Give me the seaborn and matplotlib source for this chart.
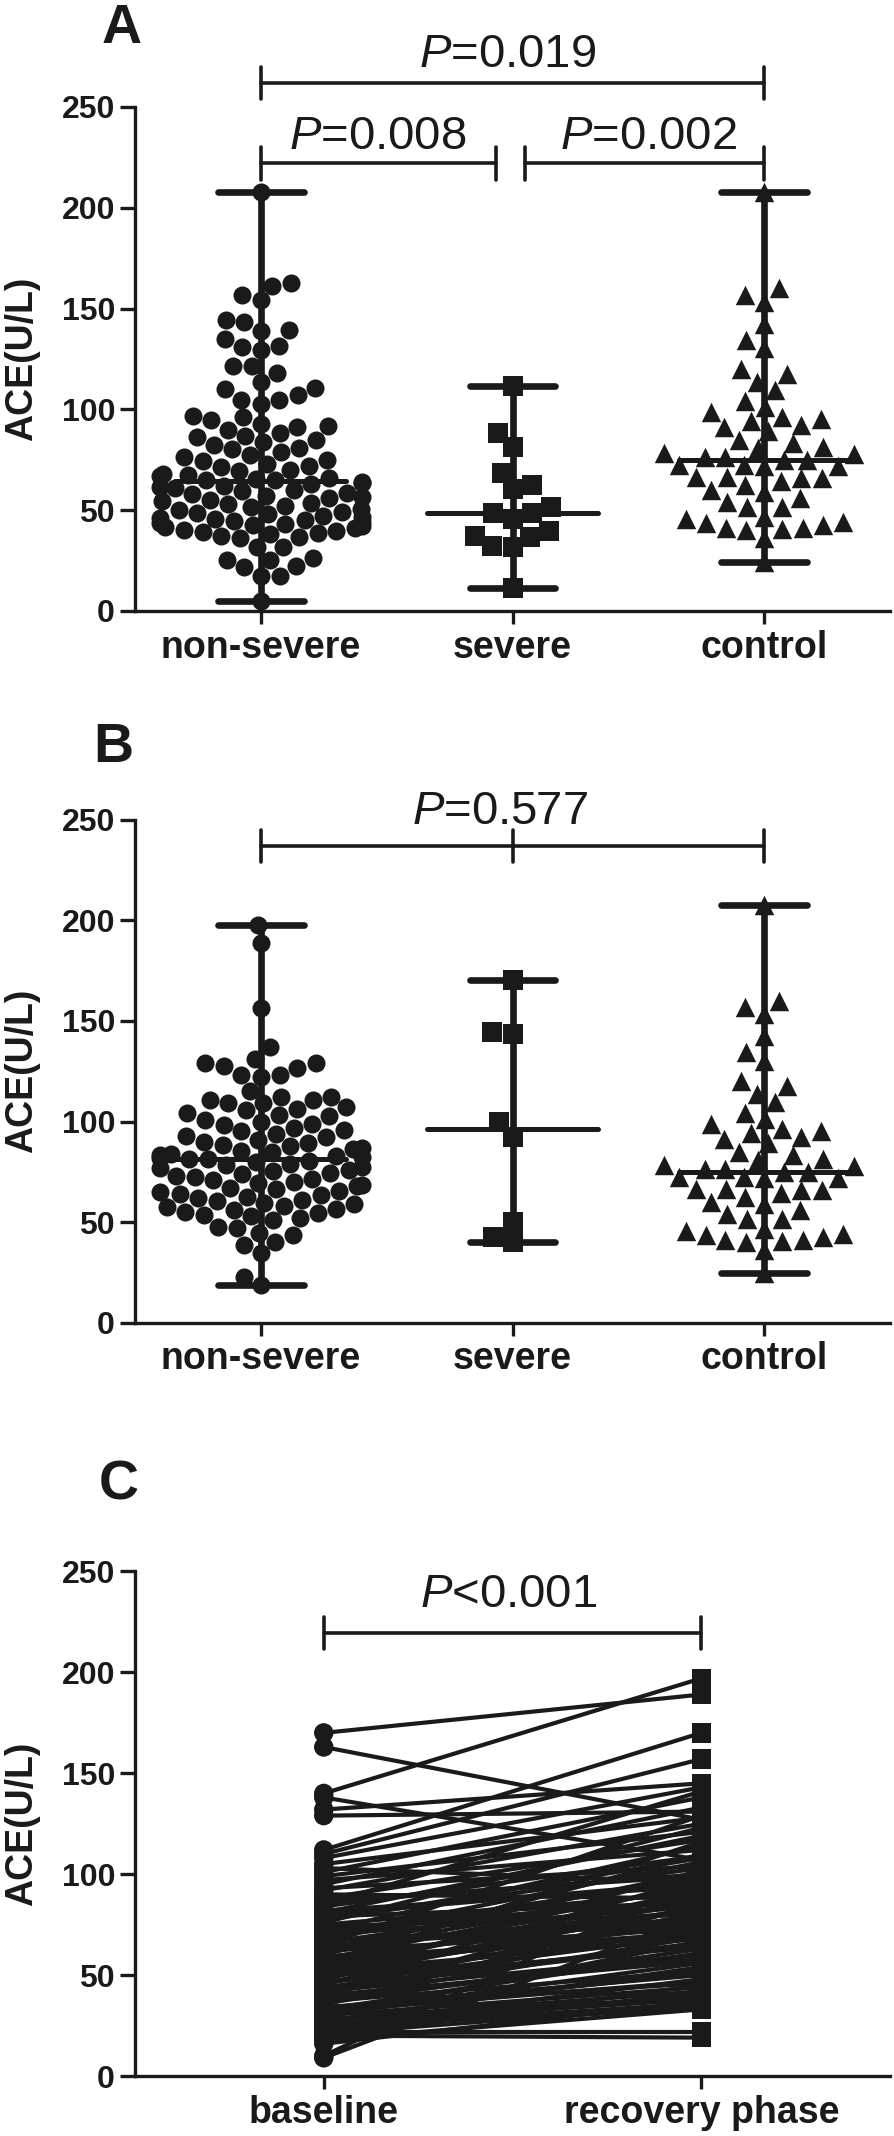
import numpy as np
import pandas as pd
import matplotlib
matplotlib.use("Agg")
import matplotlib.pyplot as plt
import seaborn as sns

groups = ["non-severe", "severe", "control"]

# panel A values (U/L)
nonsevere_a = [
    207.8, 162.5, 161.4, 156.5, 154.3, 144.1, 143.2, 139.2, 138.7, 134.8,
    131.4, 130.8, 129.3, 121.5, 121.5, 118.2, 113.7, 110.4, 110.0, 107.1,
    104.9, 104.9, 102.7, 96.7, 96.0,
    94.5, 93.0, 92.0, 91.5, 90.0, 88.5, 87.0, 86.5, 85.0, 84.0,
    82.5, 81.0, 80.5, 79.0, 77.5, 76.5, 75.0, 74.5, 73.0, 72.0,
    71.5, 70.0, 69.5, 68.0, 67.5, 67.0, 66.0, 65.5, 65.0, 64.8,
    64.0, 63.5, 63.0, 62.0, 61.5, 61.0, 60.0, 59.5, 58.5, 58.0,
    57.0, 56.5, 56.0, 55.0, 54.5, 53.5, 53.0, 52.0, 51.5, 50.5,
    50.0, 49.0, 48.5, 48.0, 47.0, 46.5, 46.0, 45.5, 45.0, 44.5,
    44.0, 43.5, 43.0, 42.5, 42.0, 41.5, 41.0, 40.0, 39.5, 39.0,
    38.5, 38.0, 37.0, 36.5, 36.0,
    31.7, 31.7, 26.3, 25.3, 25.3, 22.3, 21.8, 17.4, 17.4, 4.9,
]
severe_a = [111.8, 88.4, 81.5, 68.6, 62.5, 60.4, 51.7, 48.5, 48.5, 45.5,
            39.7, 37.2, 36.5, 32.2, 31.6, 11.6]
control_ab = [
    207.8, 160.0, 156.7, 153.5, 142.4, 134.6, 130.3, 119.9, 117.6, 113.7,
    109.6, 104.2, 101.3, 98.6, 96.4, 95.1, 94.4, 92.3, 91.4, 89.4,
    84.8, 83.5, 81.5, 81.1, 78.2, 77.7, 76.5, 76.5, 75.0, 74.9,
    72.4, 72.4, 71.9, 71.9, 66.6, 66.6, 65.8, 65.8, 64.6, 62.5,
    60.0, 59.2, 55.9, 54.2, 51.7, 51.7, 46.8, 45.5, 44.3, 43.5,
    42.7, 41.3, 41.0, 40.5, 40.2, 36.0, 24.5,
]

# panel B values (U/L)
nonsevere_b = [
    197.4, 188.5, 156.5, 136.8, 130.9, 128.9, 128.9, 127.6, 126.4, 123.1,
    123.1, 122.3, 115.2, 112.3, 112.3, 110.7, 110.7, 109.0, 109.0,
    107.0, 106.0, 105.5, 104.0, 103.0, 102.5, 101.0, 100.0, 99.0, 98.5,
    97.0, 96.0, 95.5, 94.0, 93.0, 92.5, 91.0, 90.0, 89.5, 88.5,
    88.0, 87.0, 86.5, 85.5, 85.0, 84.0, 83.5, 83.0, 82.5, 82.0, 81.6,
    81.2, 80.5, 80.0, 79.0, 78.5, 77.5, 77.0, 76.0, 75.5, 74.5,
    74.0, 73.0, 72.5, 71.5, 71.0, 70.0, 69.5, 68.5, 68.0, 67.0,
    66.5, 65.5, 65.0, 64.0, 63.5, 62.5, 62.0, 61.0, 60.5, 59.5,
    59.0, 58.0, 57.5, 56.5, 56.0, 55.0, 54.5, 53.5, 53.0, 52.0, 51.0,
    47.7, 47.0, 44.8, 43.6, 40.3, 38.6, 34.5, 22.9, 18.8,
]
severe_b = [170.3, 144.6, 143.5, 99.6, 92.5, 50.2, 42.5, 40.3]

# panel C paired values (U/L)
phases = ["baseline", "recovery phase"]
baseline_c = [
    170, 163, 140, 138, 132, 129, 112, 110, 108, 105,
    103, 101, 99, 97, 95, 93, 92, 90, 88, 87,
    85, 84, 82, 81, 79, 78, 76, 75, 74, 72,
    71, 70, 69, 67, 66, 65, 64, 63, 62, 61,
    60, 59, 58, 57, 56, 55, 54, 53, 52, 51,
    50, 49, 48, 47, 46, 45, 44, 43, 42, 41,
    40, 39, 38, 37, 36, 35, 34, 33, 32, 31,
    30, 29, 28, 27, 26, 25, 24, 23, 22, 21,
    20, 19, 18, 16, 10, 9,
    86, 80, 77, 73, 68, 65, 62, 58, 55, 52,
    49, 46, 43, 40, 37, 34, 31, 28, 25, 22,
]
recovery_c = [
    189, 127, 197, 107, 145, 131, 170, 157, 143, 128,
    96, 138, 121, 112, 133, 104, 125, 88, 117, 99,
    141, 109, 94, 119, 86, 103, 123, 91, 80, 114,
    97, 84, 106, 77, 93, 129, 82, 101, 73, 89,
    110, 79, 95, 70, 86, 116, 75, 92, 68, 83,
    102, 72, 88, 64, 78, 98, 66, 81, 60, 74,
    90, 58, 69, 52, 63, 85, 50, 61, 47, 56,
    44, 67, 42, 54, 38, 48, 36, 40, 22, 35,
    19, 45, 33, 37, 98, 80,
    100, 96, 108, 87, 99, 76, 94, 71, 90, 78,
    84, 70, 65, 57, 60, 46, 51, 39, 33, 41,
]

p_labels_a = ["$\\mathit{P}$=0.019", "$\\mathit{P}$=0.008", "$\\mathit{P}$=0.002"]
p_label_b = "$\\mathit{P}$=0.577"
p_label_c = "$\\mathit{P}$<0.001"

ink = "#1a1a1a"

sns.set_style("ticks")
plt.rcParams["font.family"] = ["Liberation Sans", "DejaVu Sans"]
plt.rcParams["mathtext.fontset"] = "custom"
plt.rcParams["mathtext.rm"] = "Liberation Sans"
plt.rcParams["mathtext.it"] = "Liberation Sans:italic"


def style_axis(ax, labels):
    for side in ["top", "right"]:
        ax.spines[side].set_visible(False)
    for side in ["left", "bottom"]:
        ax.spines[side].set_linewidth(2.4)
        ax.spines[side].set_color(ink)
    ax.set_ylim(0, 250)
    ax.set_yticks([0, 50, 100, 150, 200, 250])
    ax.tick_params(axis="y", length=10.8, width=2.4, color=ink, pad=3.6,
                   labelsize=23, labelcolor=ink)
    ax.tick_params(axis="x", length=9.4, width=2.4, color=ink, pad=4,
                   labelsize=27, labelcolor=ink)
    ax.set_xticks(range(len(labels)))
    ax.set_xticklabels(labels, fontweight="bold")
    for t in ax.get_yticklabels():
        t.set_fontweight("bold")
    ax.set_xlabel("")
    ax.set_ylabel("ACE(U/L)", fontsize=27, fontweight="bold", color=ink)
    ax.yaxis.set_label_coords(-0.126, 0.5)


def bracket(ax, x0, x1, y, mids=()):
    ax.plot([x0, x1], [y, y], color=ink, lw=2.6, clip_on=False)
    for x in (x0, x1) + tuple(mids):
        ax.plot([x, x], [y - 8, y + 8], color=ink, lw=2.6, clip_on=False,
                solid_capstyle="round")


def dot_panel(ax, values_by_group):
    markers = ["o", "s", "^"]
    sizes = [13, 14, 14]
    for grp, vals, mk, sz in zip(groups, values_by_group, markers, sizes):
        sns.swarmplot(x=[grp] * len(vals), y=vals, order=groups, marker=mk,
                      size=sz, color=ink, linewidth=0, ax=ax, warn_thresh=1,
                      zorder=2)
    df = pd.DataFrame({
        "group": np.repeat(groups, [len(v) for v in values_by_group]),
        "value": np.concatenate(values_by_group),
    })
    stats = df.groupby("group")["value"].agg(["median", "min", "max"]).reindex(groups)
    pos = np.arange(len(groups))
    ax.vlines(pos, stats["min"], stats["max"], color=ink, lw=4.8, zorder=3)
    ax.hlines(stats["max"], pos - 0.17, pos + 0.17, color=ink, lw=4.8,
              zorder=3, capstyle="round")
    ax.hlines(stats["min"], pos - 0.17, pos + 0.17, color=ink, lw=4.8,
              zorder=3, capstyle="round")
    ax.hlines(stats["median"], pos - 0.34, pos + 0.34, color=ink, lw=3.6,
              zorder=3, capstyle="round")
    ax.set_xlim(-0.5, 2.5)
    style_axis(ax, groups)


fig = plt.figure(figsize=(8.94, 21.36), dpi=100)
left, width = 135 / 894, 755 / 894

# A
ax_a = fig.add_axes([left, 1 - 611 / 2136, width, 504 / 2136])
dot_panel(ax_a, [nonsevere_a, severe_a, control_ab])
bracket(ax_a, 0, 2, 262)
bracket(ax_a, 0, 0.934, 222)
bracket(ax_a, 1.05, 2, 222)
ax_a.text(0.98, 270, p_labels_a[0], ha="center", va="baseline", fontsize=34, color=ink)
ax_a.text(0.465, 229, p_labels_a[1], ha="center", va="baseline", fontsize=34, color=ink)
ax_a.text(1.542, 229, p_labels_a[2], ha="center", va="baseline", fontsize=34, color=ink)

# B
ax_b = fig.add_axes([left, 1 - 1322.8 / 2136, width, 503.2 / 2136])
dot_panel(ax_b, [nonsevere_b, severe_b, control_ab])
bracket(ax_b, 0, 2, 236.7, mids=(1,))
ax_b.text(0.95, 248, p_label_b, ha="center", va="baseline", fontsize=34, color=ink)

# C
ax_c = fig.add_axes([left, 1 - 2076 / 2136, width, 504.6 / 2136])
n_pairs = len(baseline_c)
pair_df = pd.DataFrame({
    "pair": np.tile(np.arange(n_pairs), 2),
    "phase": np.repeat([0, 1], n_pairs),
    "value": baseline_c + recovery_c,
})
sns.lineplot(data=pair_df, x="phase", y="value", units="pair", estimator=None,
             color=ink, lw=3.0, legend=False, ax=ax_c, zorder=2)
sns.scatterplot(data=pair_df, x="phase", y="value", style="phase",
                markers={0: "o", 1: "s"}, s=196, color=ink, linewidth=0,
                legend=False, ax=ax_c, zorder=3)
ax_c.set_xlim(-0.5, 1.5)
style_axis(ax_c, phases)
bracket(ax_c, 0, 1, 219.4)
ax_c.text(0.49, 232.6, p_label_c, ha="center", va="baseline", fontsize=34, color=ink)

# panel letters
fig.text(122 / 894, 1 - 43 / 2136, "A", fontsize=40, fontweight="bold",
         ha="center", va="baseline", color=ink)
fig.text(113 / 894, 1 - 762 / 2136, "B", fontsize=40, fontweight="bold",
         ha="center", va="baseline", color=ink)
fig.text(119 / 894, 1 - 1499 / 2136, "C", fontsize=40, fontweight="bold",
         ha="center", va="baseline", color=ink)

fig.savefig("out.png", dpi=100, facecolor="white")
